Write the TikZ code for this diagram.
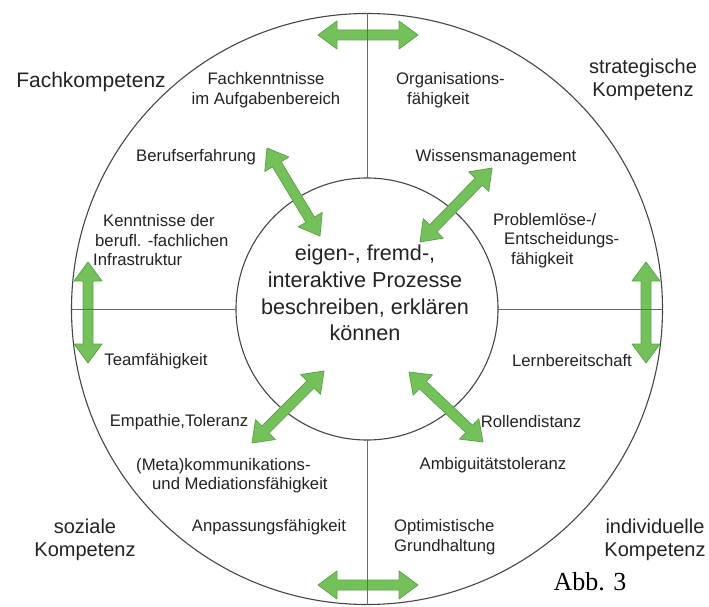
\documentclass[tikz,border=0pt]{standalone}
\usepackage{fontspec}
\setmainfont{Liberation Sans}
\newfontfamily\timesfont{Liberation Serif}
\usetikzlibrary{calc}
\definecolor{agreen}{RGB}{116,193,92}
\definecolor{arim}{RGB}{92,165,72}
\definecolor{ink}{RGB}{35,35,35}
\definecolor{rulec}{RGB}{105,105,105}
\definecolor{ringc}{RGB}{70,70,70}
\newcommand\fatarrow[2]{%
  \pgfpointdiff{\pgfpointanchor{#1}{center}}{\pgfpointanchor{#2}{center}}%
  \pgfgetlastxy{\fax}{\fay}%
  \pgfmathsetmacro{\flen}{veclen(\fax,\fay)}%
  \pgfmathsetmacro{\fang}{atan2(\fay,\fax)}%
  \draw[fat, shift={(#1)}, rotate=\fang] (0pt,0pt) -- (19pt,14pt) -- (19pt,5pt)
    -- ({\flen pt-19pt},5pt) -- ({\flen pt-19pt},14pt) -- ({\flen pt},0pt)
    -- ({\flen pt-19pt},-14pt) -- ({\flen pt-19pt},-5pt) -- (19pt,-5pt)
    -- (19pt,-14pt) -- cycle;}
\tikzset{
  lab/.style={font=\fontsize{16.7}{19.5}\selectfont, text=ink, inner sep=0pt},
  corner/.style={font=\fontsize{20}{23}\selectfont, text=ink, inner sep=0pt, align=center},
  ring/.style={circle, draw=ringc, line width=1.1pt, inner sep=0pt, outer sep=0pt},
  divider/.style={draw=rulec, line width=0.9pt},
  fat/.style={fill=agreen, draw=arim, line width=0.8pt, line join=round},
}
\begin{document}
\begin{tikzpicture}[x=1pt,y=-1pt]
\useasboundingbox (0,0) rectangle (709,607);
\fill[white] (0,0) rectangle (709,607);
% rings
\node[ring, minimum size=591pt] (outer) at (367,309) {};
\node[ring, minimum size=262pt] (inner) at (367,309) {};
% arrow end points
\coordinate (t1) at (318,35);  \coordinate (t2) at (418,35);
\coordinate (b1) at (318,585); \coordinate (b2) at (418,585);
\coordinate (l1) at (88,262);  \coordinate (l2) at (88,363);
\coordinate (r1) at (646,262); \coordinate (r2) at (646,363);
\coordinate (ul1) at (267,148); \coordinate (ul2) at (320,236);
\coordinate (ur1) at (492,168); \coordinate (ur2) at (420,242);
\coordinate (ll1) at (324,371); \coordinate (ll2) at (252,443);
\coordinate (lr1) at (409,372); \coordinate (lr2) at (483,442);
\fatarrow{t1}{t2}
\fatarrow{b1}{b2}
\fatarrow{l1}{l2}
\fatarrow{r1}{r2}
\fatarrow{ul1}{ul2}
\fatarrow{ur1}{ur2}
\fatarrow{ll1}{ll2}
\fatarrow{lr1}{lr2}
% dividers
\draw[divider] (outer.north) -- (inner.north);
\draw[divider] (inner.south) -- (outer.south);
\draw[divider] (outer.west) -- (inner.west);
\draw[divider] (inner.east) -- (outer.east);
% centre text
\node[font=\fontsize{21.6}{26.7}\selectfont, text=ink, align=center, inner sep=0pt] (core) at (365,293)
  {eigen-, fremd-,\\interaktive Prozesse\\beschreiben, erklären\\können};
% corner labels
\node[corner, font=\fontsize{21}{24}\selectfont] (fach) at (91,82) {Fachkompetenz};
\node[corner] (strat) at (643,80) {strategische\\Kompetenz};
\node[corner] (soz) at (85,540) {soziale\\Kompetenz};
\node[corner] (indiv) at (655,540) {individuelle\\Kompetenz};
% item labels
\node[lab, align=center] (fk) at (266,90) {Fachkenntnisse\\im Aufgabenbereich};
\node[lab, align=left, anchor=west] (org) at (396,90) {Organisations-\\\hspace*{11pt}fähigkeit};
\node[lab] (beruf) at (196,157) {Berufserfahrung};
\node[lab] (wiss) at (496,157) {Wissensmanagement};
\node[lab, align=left, anchor=west] (kennt) at (93,240.5) {\hspace*{10pt}Kenntnisse der\\\hspace*{2pt}berufl. -fachlichen\\Infrastruktur};
\node[lab, align=left, anchor=west] (prob) at (493,240.5) {Problemlöse-/\\\hspace*{11pt}Entscheidungs-\\\hspace*{18pt}fähigkeit};
\node[lab] (team) at (156,361) {Teamfähigkeit};
\node[lab] (lern) at (572,361) {Lernbereitschaft};
\node[lab] (emp) at (179,422) {Empathie,Toleranz};
\node[lab] (roll) at (531,422) {Rollendistanz};
\node[lab, align=left, anchor=west] (meta) at (136,475.5) {(Meta)kommunikations-\\\hspace*{16pt}und Mediationsfähigkeit};
\node[lab] (ambi) at (493,465) {Ambiguitätstoleranz};
\node[lab] (anp) at (269,527) {Anpassungsfähigkeit};
\node[lab, align=left, anchor=west] (opt) at (394,537) {Optimistische\\Grundhaltung};
\node[font=\timesfont\fontsize{26}{30}\selectfont, text=black, inner sep=0pt] (abb) at (590,582) {Abb. 3};
\end{tikzpicture}
\end{document}
